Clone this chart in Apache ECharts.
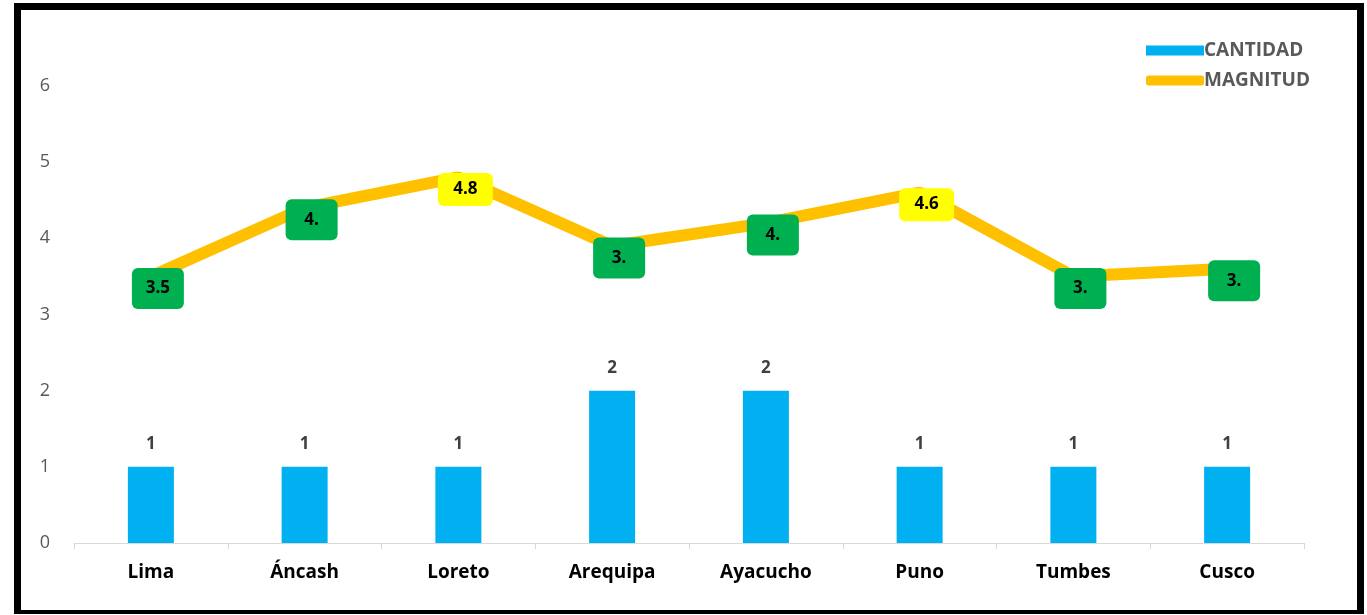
<!DOCTYPE html>
<html><head><meta charset="utf-8">
<script src="https://cdn.jsdelivr.net/npm/echarts@6/dist/echarts.min.js"></script>
<style>
html,body{margin:0;padding:0;background:#fff;}
#frame{position:absolute;left:14px;top:3px;width:1350px;height:611px;box-sizing:border-box;border:7px solid #000;border-bottom-width:4px;}
#c{position:absolute;left:0;top:0;width:1367px;height:615px;}
</style></head>
<body>
<div id="frame"></div>
<div id="c"></div>
<script>
const categories = ['Lima','Áncash','Loreto','Arequipa','Ayacucho','Puno','Tumbes','Cusco'];
const cantidad = [1,1,1,2,2,1,1,1];
const magnitud = [3.5,4.4,4.8,3.9,4.2,4.6,3.5,3.6];
const magnitudLabels = ['3.5','4.','4.8','3.','4.','4.6','3.','3.'];
const yTicks = [0,1,2,3,4,5,6];

const FONT = '"Open Sans", Lato, sans-serif';
const chart = echarts.init(document.getElementById('c'));
chart.setOption({
  animation:false,
  grid:{left:74,right:63,top:86,bottom:72},
  legend:{
    orient:'vertical', left:1141, top:36, itemGap:11,
    itemWidth:58, itemHeight:10,
    textStyle:{fontFamily:FONT,fontWeight:'bold',fontSize:19,color:'#595959',padding:[0,0,0,-5]},
    data:[
      {name:'CANTIDAD',icon:'rect',itemStyle:{color:'#00B0F0'}},
      {name:'MAGNITUD',icon:'roundRect',itemStyle:{color:'#FFC000',opacity:1}}
    ]
  },
  xAxis:{
    type:'category', data:categories,
    axisLine:{lineStyle:{color:'#d9d9d9',width:1}},
    axisTick:{show:true,length:6,lineStyle:{color:'#d9d9d9'}},
    axisLabel:{fontFamily:FONT,fontWeight:'bold',fontSize:19,color:'#000',margin:20}
  },
  yAxis:{
    type:'value', min:yTicks[0], max:yTicks[yTicks.length-1], interval:1,
    axisLine:{show:false}, axisTick:{show:false}, splitLine:{show:false},
    axisLabel:{fontFamily:FONT,fontSize:18,color:'#595959',margin:24}
  },
  series:[
    {
      name:'CANTIDAD', type:'bar', data:cantidad, barWidth:46,
      itemStyle:{color:'#00B0F0'},
      label:{show:true,position:'top',distance:14,fontFamily:FONT,fontWeight:'bold',fontSize:17,color:'#404040'}
    },
    {
      name:'MAGNITUD', type:'line', data:magnitud,
      symbol:'circle', symbolSize:2, showSymbol:true,
      lineStyle:{color:'#FFC000',width:12},
      itemStyle:{color:'rgba(255,192,0,0)',borderWidth:0},
      z:3,
      labelLayout:{hideOverlap:false, dx:7, dy:12},
      label:{
        show:true, position:'inside',
        fontFamily:FONT, fontWeight:'bold', fontSize:17, color:'#000',
        formatter:p=>'{'+(magnitud[p.dataIndex]>=4.5?'y':'g')+'|'+magnitudLabels[p.dataIndex]+'}',
        rich:{
          g:{backgroundColor:'#00B050',color:'#000',fontFamily:FONT,fontWeight:'bold',fontSize:17,lineHeight:18,padding:[12,14,12,14],borderRadius:6,width:24,align:'center'},
          y:{backgroundColor:'#FFFF00',color:'#000',fontFamily:FONT,fontWeight:'bold',fontSize:17,lineHeight:18,padding:[8,12,8,12],borderRadius:6,width:31,align:'center'}
        }
      }
    }
  ]
});
</script>
</body></html>
